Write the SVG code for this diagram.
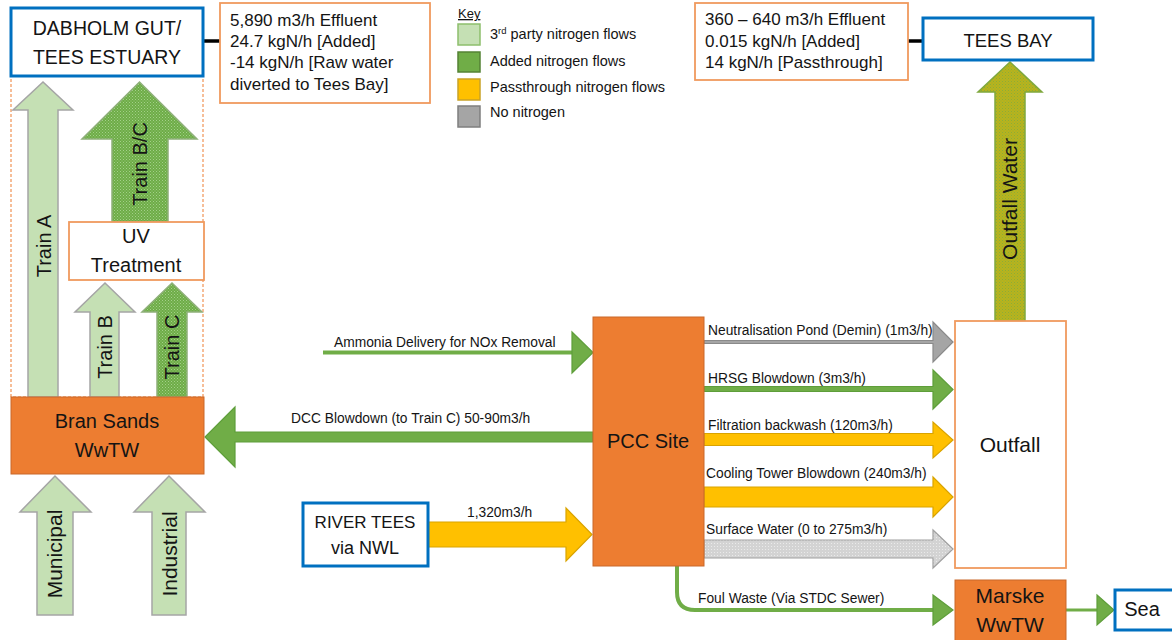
<svg xmlns="http://www.w3.org/2000/svg" width="1172" height="640" viewBox="0 0 1172 640">
<defs>
<style>
text{font-family:"Liberation Sans",Arial,sans-serif;fill:#141414}
.big{font-size:20px;text-anchor:middle}
.info{font-size:17px}
.lbl{font-size:13.8px}
.key{font-size:14.5px}
.blue{fill:#fff;stroke:#0070C0;stroke-width:3}
.orange{fill:#ED7D31;stroke:#C9682A;stroke-width:1}
.obox{fill:#fff;stroke:#F09A5E;stroke-width:1.8}
.lg{fill:#C5E0B4;stroke:#A5A5A5;stroke-width:1.5}
.gp{fill:url(#gpat);stroke:#8FB07A;stroke-width:1.5}
.gr{fill:#70AD47;stroke:#5E9E3A;stroke-width:1.2}
.yl{fill:#FFC000;stroke:#D9A300;stroke-width:1.2}
.gy{fill:#A5A5A5;stroke:#8A8A8A;stroke-width:1.2}
.lgy{fill:url(#spat);stroke:#A0A0A0;stroke-width:1.2}
.ow{fill:url(#opat);stroke:#7FA83E;stroke-width:1.5}
</style>
<pattern id="gpat" width="3" height="3" patternUnits="userSpaceOnUse">
<rect width="3" height="3" fill="#6EAC47"/>
<rect width="1" height="1" fill="#A3D189"/>
<rect x="1.5" y="1.5" width="1" height="1" fill="#9ACB7E"/>
</pattern>
<pattern id="opat" width="3" height="3" patternUnits="userSpaceOnUse">
<rect width="3" height="3" fill="#B9B31C"/>
<rect width="1" height="1" fill="#89AD3A"/>
<rect x="1.5" y="1.5" width="1" height="1" fill="#96AF33"/>
</pattern>
<pattern id="spat" width="3" height="3" patternUnits="userSpaceOnUse">
<rect width="3" height="3" fill="#D3D3D3"/>
<rect width="1" height="1" fill="#EAEAEA"/>
</pattern>
</defs>
<rect width="1172" height="640" fill="#fff"/>

<g id="connectors">
<line x1="203" y1="41" x2="221" y2="41" stroke="#000" stroke-width="3.5"/>
<line x1="907" y1="41" x2="923" y2="41" stroke="#000" stroke-width="3.5"/>
<rect x="11" y="76" width="192" height="321" fill="none" stroke="#ED7D31" stroke-width="1" stroke-dasharray="3,2"/>
<!-- Train arrows -->
<polygon class="lg" points="28,397 28,110 13,110 43,82 73,110 58,110 58,397"/>
<polygon class="gp" points="112,222 112,139 82,139 139.5,82 197,139 168,139 168,222"/>
<polygon class="lg" points="90,397 90,312 75,312 105,283 135,312 119,312 119,397"/>
<polygon class="gp" points="157,397 157,312 142,312 172,283 202,312 187,312 187,397"/>
<polygon class="lg" points="37,615 37,512 20,512 55,476 91,512 73,512 73,615"/>
<polygon class="lg" points="152,615 152,512 134,512 169,476 205,512 186,512 186,615"/>
<polygon class="ow" points="995,321 995,92 978,92 1010,62 1042,92 1025,92 1025,321"/>
<!-- Left flows -->
<line x1="323" y1="352.5" x2="573" y2="352.5" stroke="#70AD47" stroke-width="4"/>
<polygon class="gr" points="572,332 593,352.5 572,373"/>
<polygon class="gr" points="593,432 235,432 235,407 205,437 235,467 235,442 593,442"/>
<polygon class="yl" points="428,522 566,522 566,508 592,534.5 566,561 566,547 428,547"/>
<!-- Right flows -->
<polygon class="gy" points="704,340.5 933,340.5 933,322 953,342 933,362 933,343.5 704,343.5"/>
<polygon class="gr" points="704,386.5 933,386.5 933,370 953,389.5 933,409 933,391.5 704,391.5"/>
<polygon class="yl" points="704,433.5 933,433.5 933,422 953,440 933,458 933,445.5 704,445.5"/>
<polygon class="yl" points="704,487 933,487 933,477 953,497 933,517 933,507 704,507"/>
<polygon class="lgy" points="704,540 933,540 933,530 953,549 933,568 933,558 704,558"/>
<path d="M677,566 V592 Q677,610 695,610 H934" fill="none" stroke="#70AD47" stroke-width="4"/>
<polygon class="gr" points="933,595 953,610 933,625"/>
<line x1="1066" y1="610" x2="1098" y2="610" stroke="#70AD47" stroke-width="3"/>
<polygon class="gr" points="1097,595 1114,610 1097,625"/>
<!-- labels -->
<text class="big" transform="translate(51,246) rotate(-90)">Train A</text>
<text class="big" transform="translate(147,164) rotate(-90)">Train B/C</text>
<text class="big" transform="translate(112,347) rotate(-90)">Train B</text>
<text class="big" transform="translate(179,347) rotate(-90)">Train C</text>
<text class="big" style="font-size:21px" transform="translate(62,554) rotate(-90)">Municipal</text>
<text class="big" style="font-size:21px" transform="translate(177,554) rotate(-90)">Industrial</text>
<text class="big" style="font-size:21px" transform="translate(1017,199) rotate(-90)">Outfall Water</text>
<text class="lbl" x="334" y="347">Ammonia Delivery for NOx Removal</text>
<text class="lbl" x="291" y="423">DCC Blowdown (to Train C) 50-90m3/h</text>
<text class="lbl" x="467" y="517">1,320m3/h</text>
<text class="lbl" x="708" y="335">Neutralisation Pond (Demin) (1m3/h)</text>
<text class="lbl" x="708" y="383">HRSG Blowdown (3m3/h)</text>
<text class="lbl" x="708" y="430">Filtration backwash (120m3/h)</text>
<text class="lbl" x="706" y="478">Cooling Tower Blowdown (240m3/h)</text>
<text class="lbl" x="706" y="534">Surface Water (0 to 275m3/h)</text>
<text class="lbl" x="698" y="603">Foul Waste (Via STDC Sewer)</text>
</g>

<g id="dabholm">
<rect class="blue" x="11" y="8" width="192" height="68"/>
<text class="big" style="font-size:19.5px" x="107" y="35">DABHOLM GUT/</text>
<text class="big" style="font-size:19.5px" x="107" y="64">TEES ESTUARY</text>
</g>

<g id="info-left">
<rect class="obox" x="220" y="3" width="210" height="100"/>
<text class="info" x="230" y="26">5,890 m3/h Effluent</text>
<text class="info" x="230" y="47">24.7 kgN/h [Added]</text>
<text class="info" x="230" y="68">-14 kgN/h [Raw water</text>
<text class="info" x="230" y="90">diverted to Tees Bay]</text>
</g>

<g id="key">
<text x="458" y="18" style="font-size:13px;text-decoration:underline">Key</text>
<rect x="458" y="24" width="22" height="21" fill="#C5E0B4" stroke="#8DBF6C" stroke-width="1.5"/>
<rect x="458" y="52" width="22" height="20" fill="#70AD47" stroke="#548235" stroke-width="1.5"/>
<rect x="458" y="79" width="22" height="21" fill="#FFC000" stroke="#C9A227" stroke-width="1.5"/>
<rect x="458" y="106" width="22" height="21" fill="#A5A5A5" stroke="#7F7F7F" stroke-width="1.5"/>
<text class="key" x="490" y="39">3<tspan style="font-size:9.5px" baseline-shift="super">rd</tspan> party nitrogen flows</text>
<text class="key" x="490" y="66">Added nitrogen flows</text>
<text class="key" x="490" y="92">Passthrough nitrogen flows</text>
<text class="key" x="490" y="117">No nitrogen</text>
</g>

<g id="info-right">
<rect class="obox" x="695" y="3" width="213" height="77"/>
<text class="info" x="705" y="25">360 – 640 m3/h Effluent</text>
<text class="info" x="705" y="47">0.015 kgN/h [Added]</text>
<text class="info" x="705" y="68">14 kgN/h [Passthrough]</text>
</g>

<g id="tees-bay">
<rect class="blue" x="923" y="18" width="170" height="42"/>
<text class="big" style="font-size:18.5px" x="1008" y="47">TEES BAY</text>
</g>

<g id="uv-treatment">
<rect class="obox" x="69" y="222" width="135" height="58"/>
<text class="big" x="136" y="243">UV</text>
<text class="big" x="136" y="272">Treatment</text>
</g>

<g id="bran-sands">
<rect class="orange" x="11" y="397" width="193" height="77"/>
<text class="big" x="107" y="428">Bran Sands</text>
<text class="big" x="107" y="457">WwTW</text>
</g>

<g id="river-tees">
<rect class="blue" x="303" y="503" width="125" height="63"/>
<text class="big" style="font-size:17px" x="365" y="528">RIVER TEES</text>
<text class="big" style="font-size:18px" x="365" y="554">via NWL</text>
</g>

<g id="pcc-site">
<rect class="orange" x="593" y="317" width="111" height="249"/>
<text class="big" x="648" y="448">PCC Site</text>
</g>

<g id="outfall">
<rect class="obox" x="955" y="321" width="111" height="247"/>
<text class="big" style="font-size:21px" x="1010" y="452">Outfall</text>
</g>

<g id="marske">
<rect class="orange" x="955" y="580" width="111" height="62"/>
<text class="big" style="font-size:21px" x="1010" y="603">Marske</text>
<text class="big" style="font-size:21px" x="1010" y="632">WwTW</text>
</g>

<g id="sea">
<rect class="blue" x="1115" y="590" width="60" height="40"/>
<text class="big" x="1142" y="616">Sea</text>
</g>
</svg>
